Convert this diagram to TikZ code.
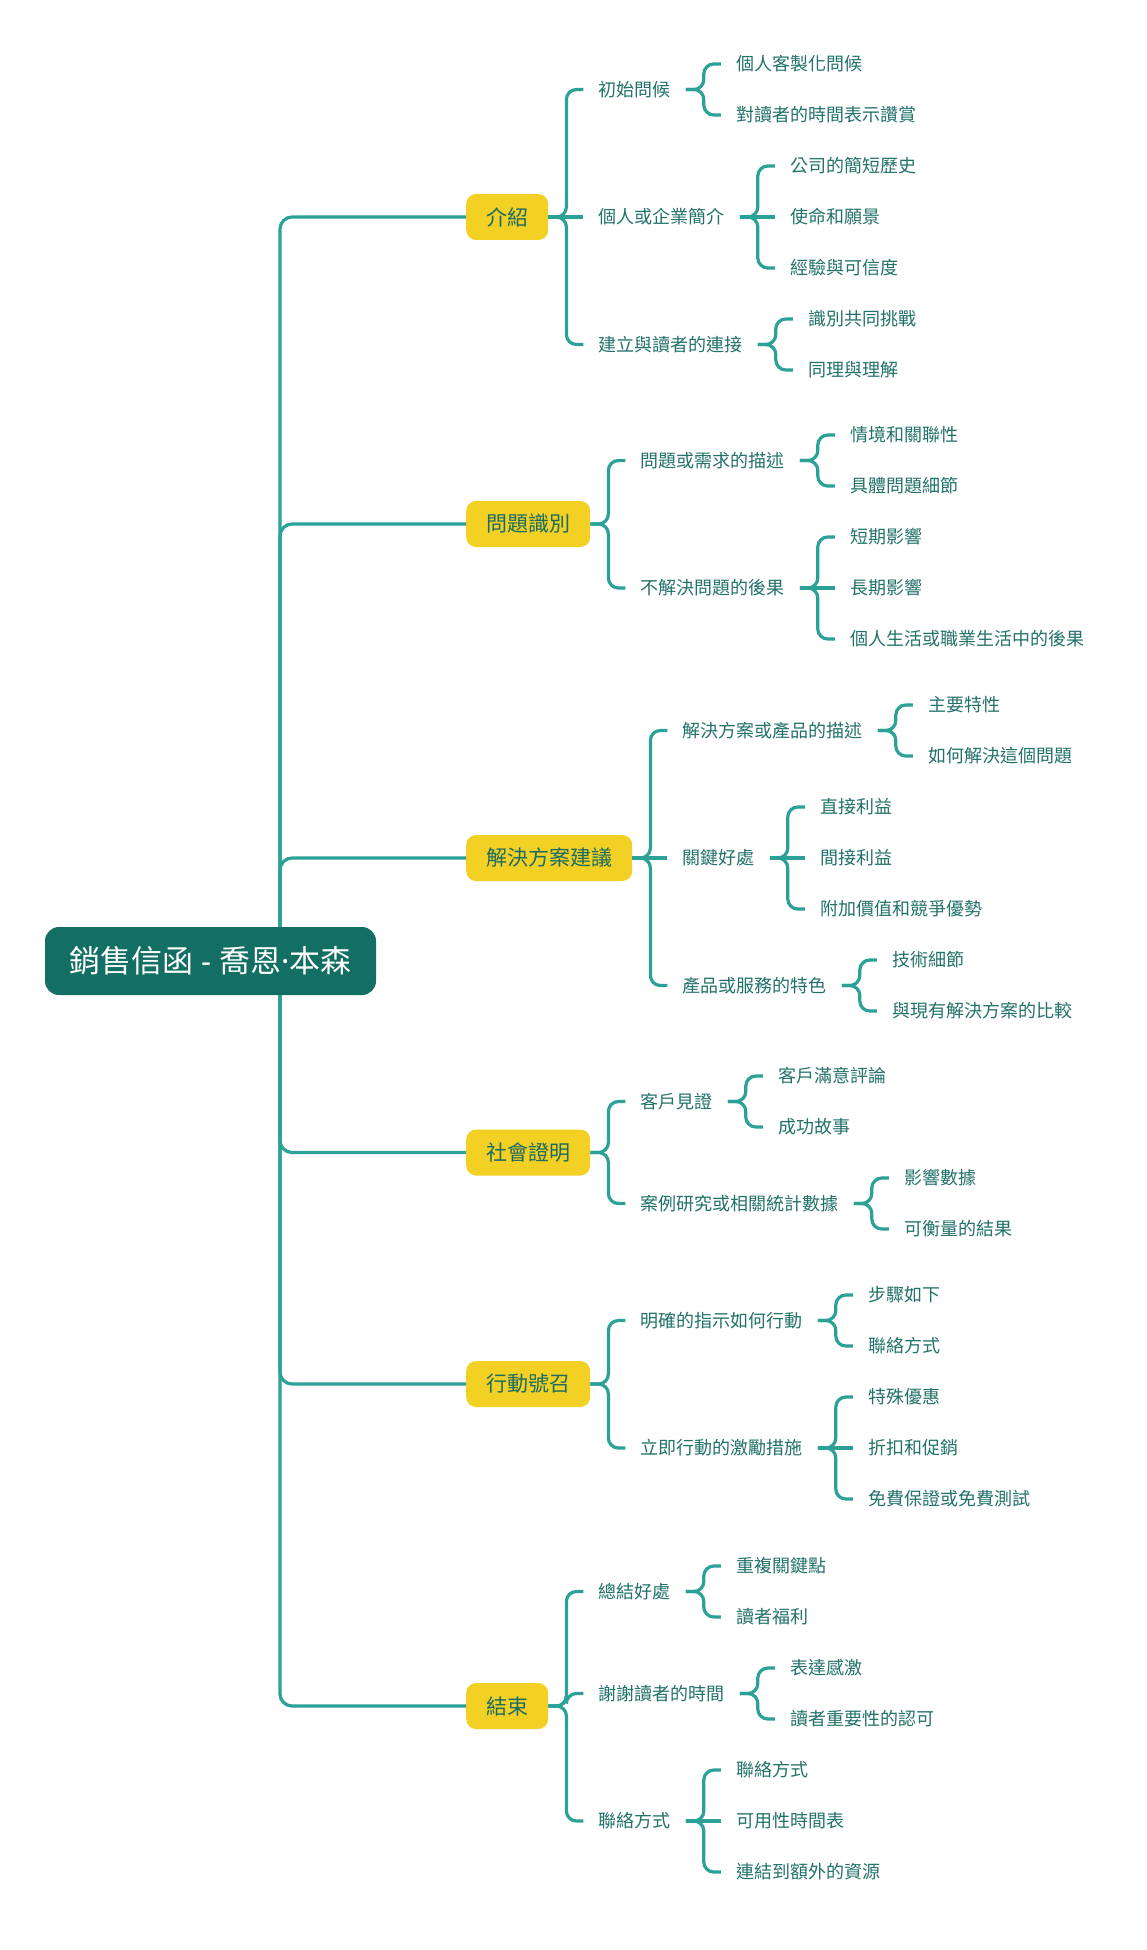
\documentclass[tikz,border=0pt]{standalone}
\usepackage{fontspec}
\setmainfont{Noto Sans CJK TC}
\newfontfamily\latinf{Noto Sans}
\definecolor{linec}{HTML}{2BA197}
\definecolor{rootc}{HTML}{136E63}
\definecolor{yel}{HTML}{F2D024}
\definecolor{txtc}{HTML}{1B6B62}
\definecolor{leaftxt}{HTML}{22726A}
\newcommand\kid[4]{%
  \path (#1.east) ++(35,0) coordinate (t#2);
  \node[leaf] (#2) at (t#2 |- 0,#3) {#4};
  \draw[edge] (#1.east) -- ++(18,0) |- (#2.west);}
\newcommand\kidm[4]{%
  \path (#1.east) ++(35,0) coordinate (t#2);
  \node[leaf] (#2) at (t#2 |- 0,#3) {#4};
  \draw[edge] (#1.east) -- (#2.west);}
\newcommand\topicnode[3]{%
  \node[topic] (#1) at (466,#2) {#3};
  \draw[trunk] (rc) |- (#1.west);}
\begin{document}
\begin{tikzpicture}[x=1pt,y=-1pt,
  rootbox/.style={fill=rootc, rounded corners=14pt, text=white, font=\fontsize{31}{35}\selectfont, inner sep=0pt, minimum width=331pt, minimum height=68pt},
  topic/.style={fill=yel, rounded corners=10pt, text=txtc, font=\fontsize{21}{25}\selectfont, inner xsep=20pt, inner ysep=0pt, minimum height=46pt, anchor=west},
  leaf/.style={text=leaftxt, font=\fontsize{18}{22}\selectfont, inner xsep=15pt, inner ysep=3pt, anchor=west},
  edge/.style={draw=linec, line width=3.2pt, rounded corners=10pt},
  trunk/.style={draw=linec, line width=3.2pt, rounded corners=12pt}]
\useasboundingbox[fill=white] (0,0) rectangle (1146,1950);
\coordinate (rc) at (280,961);

% 介紹
\topicnode{A}{217}{介紹}
\kid{A}{a1}{89.5}{初始問候}
\kid{a1}{a11}{64}{個人客製化問候}
\kid{a1}{a12}{115}{對讀者的時間表示讚賞}
\kidm{A}{a2}{217}{個人或企業簡介}
\kid{a2}{a21}{166}{公司的簡短歷史}
\kidm{a2}{a22}{217}{使命和願景}
\kid{a2}{a23}{268}{經驗與可信度}
\kid{A}{a3}{344.5}{建立與讀者的連接}
\kid{a3}{a31}{319}{識別共同挑戰}
\kid{a3}{a32}{370}{同理與理解}

% 問題識別
\topicnode{B}{524}{問題識別}
\kid{B}{b1}{460.5}{問題或需求的描述}
\kid{b1}{b11}{435}{情境和關聯性}
\kid{b1}{b12}{486}{具體問題細節}
\kid{B}{b2}{588}{不解決問題的後果}
\kid{b2}{b21}{537}{短期影響}
\kidm{b2}{b22}{588}{長期影響}
\kid{b2}{b23}{639}{個人生活或職業生活中的後果}

% 解決方案建議
\topicnode{C}{858}{解決方案建議}
\kid{C}{c1}{730.5}{解決方案或產品的描述}
\kid{c1}{c11}{705}{主要特性}
\kid{c1}{c12}{756}{如何解決這個問題}
\kidm{C}{c2}{858}{關鍵好處}
\kid{c2}{c21}{807}{直接利益}
\kidm{c2}{c22}{858}{間接利益}
\kid{c2}{c23}{909}{附加價值和競爭優勢}
\kid{C}{c3}{985.5}{產品或服務的特色}
\kid{c3}{c31}{960}{技術細節}
\kid{c3}{c32}{1011}{與現有解決方案的比較}

% 社會證明
\topicnode{D}{1152.5}{社會證明}
\kid{D}{d1}{1101.5}{客戶見證}
\kid{d1}{d11}{1076}{客戶滿意評論}
\kid{d1}{d12}{1127}{成功故事}
\kid{D}{d2}{1203.5}{案例研究或相關統計數據}
\kid{d2}{d21}{1178}{影響數據}
\kid{d2}{d22}{1229}{可衡量的結果}

% 行動號召
\topicnode{E}{1384}{行動號召}
\kid{E}{e1}{1320.5}{明確的指示如何行動}
\kid{e1}{e11}{1295}{步驟如下}
\kid{e1}{e12}{1346}{聯絡方式}
\kid{E}{e2}{1448}{立即行動的激勵措施}
\kid{e2}{e21}{1397}{特殊優惠}
\kidm{e2}{e22}{1448}{折扣和促銷}
\kid{e2}{e23}{1499}{免費保證或免費測試}

% 結束
\topicnode{F}{1706}{結束}
\kid{F}{f1}{1591.5}{總結好處}
\kid{f1}{f11}{1566}{重複關鍵點}
\kid{f1}{f12}{1617}{讀者福利}
\kid{F}{f2}{1693.5}{謝謝讀者的時間}
\kid{f2}{f21}{1668}{表達感激}
\kid{f2}{f22}{1719}{讀者重要性的認可}
\kid{F}{f3}{1821}{聯絡方式}
\kid{f3}{f31}{1770}{聯絡方式}
\kidm{f3}{f32}{1821}{可用性時間表}
\kid{f3}{f33}{1872}{連結到額外的資源}

% root
\node[rootbox] (root) at (210.5,961) {銷售信函{\latinf\ -\ }喬恩{\latinf ·}本森};
\end{tikzpicture}
\end{document}
